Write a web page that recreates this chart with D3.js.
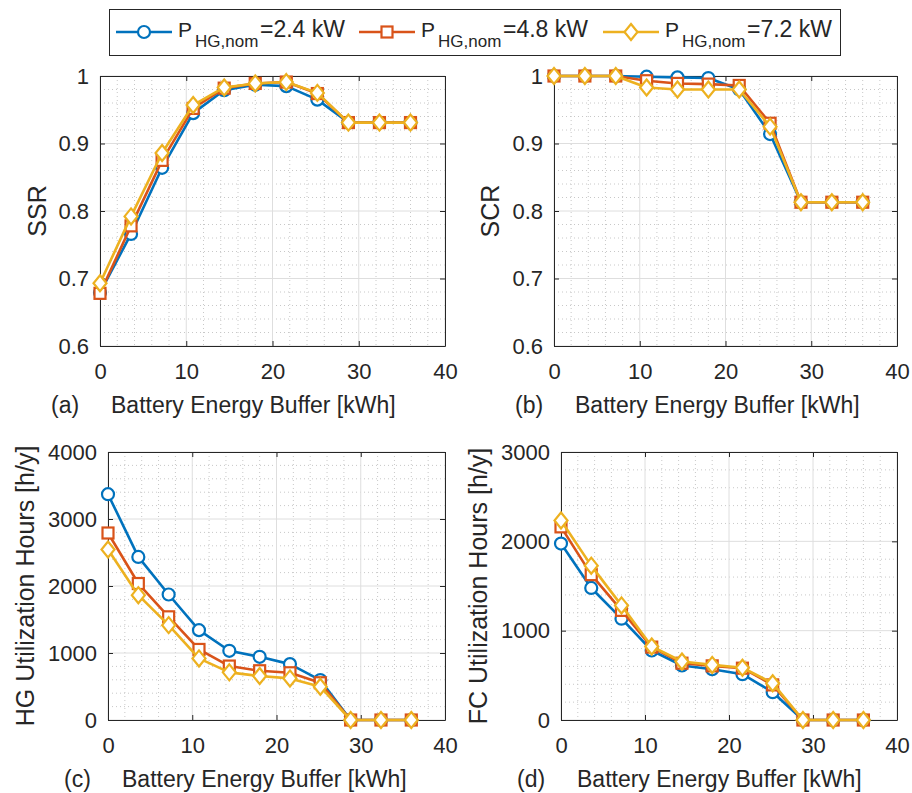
<!DOCTYPE html>
<html>
<head>
<meta charset="utf-8">
<script src="https://cdn.jsdelivr.net/npm/d3@7"></script>
<style>
body{margin:0;background:#fff;}
text{font-family:"Liberation Sans",Arial,Helvetica,sans-serif;fill:#262626;}
</style>
</head>
<body>
<div id="chart"></div>
<script>
// battery energy buffer [kWh]
var buffer = [0, 3.6, 7.2, 10.8, 14.4, 18, 21.6, 25.2, 28.8, 32.4, 36];
var powerLabels = ["2.4 kW", "4.8 kW", "7.2 kW"];
var colors = ["#0072BD", "#D95319", "#EDB120"];
var markers = ["circle", "square", "diamond"];

var ssr24 = [0.679, 0.766, 0.864, 0.945, 0.979, 0.987, 0.985, 0.965, 0.931, 0.931, 0.931];
var ssr48 = [0.678, 0.778, 0.875, 0.952, 0.982, 0.989, 0.991, 0.974, 0.931, 0.931, 0.931];
var ssr72 = [0.693, 0.792, 0.886, 0.957, 0.983, 0.989, 0.991, 0.975, 0.931, 0.931, 0.931];

var scr24 = [1.0, 1.0, 1.0, 0.999, 0.998, 0.997, 0.980, 0.914, 0.813, 0.813, 0.813];
var scr48 = [1.0, 1.0, 1.0, 0.993, 0.989, 0.988, 0.986, 0.930, 0.813, 0.813, 0.813];
var scr72 = [1.0, 1.0, 1.0, 0.983, 0.980, 0.980, 0.980, 0.925, 0.813, 0.813, 0.813];

var hg24 = [3370, 2434, 1873, 1341, 1033, 943, 834, 596, 0, 0, 0];
var hg48 = [2791, 2037, 1540, 1053, 805, 735, 705, 556, 0, 0, 0];
var hg72 = [2544, 1863, 1416, 919, 711, 656, 621, 497, 0, 0, 0];

var fc24 = [1975, 1478, 1134, 778, 610, 569, 513, 311, 0, 0, 0];
var fc48 = [2162, 1627, 1227, 816, 636, 606, 580, 393, 0, 0, 0];
var fc72 = [2233, 1728, 1283, 823, 655, 617, 585, 412, 0, 0, 0];

var xTicks = [0, 10, 20, 30, 40];
var ssrTicks = [0.6, 0.7, 0.8, 0.9, 1];
var hgTicks = [0, 1000, 2000, 3000, 4000];
var fcTicks = [0, 1000, 2000, 3000];

var width = 912;
var height = 793;

var panels = [
	{tag:"(a)", ylabel:"SSR", series:[ssr24, ssr48, ssr72], ydom:[0.6, 1], yticks:ssrTicks, minor:0.02,
	 left:100, right:445, top:76, bottom:346, tagX:51, labX:111, ylabX:46},
	{tag:"(b)", ylabel:"SCR", series:[scr24, scr48, scr72], ydom:[0.6, 1], yticks:ssrTicks, minor:0.02,
	 left:554, right:897, top:76, bottom:346, tagX:515, labX:575, ylabX:499},
	{tag:"(c)", ylabel:"HG Utilization Hours [h/y]", series:[hg24, hg48, hg72], ydom:[0, 4000], yticks:hgTicks, minor:200,
	 left:108, right:445, top:452, bottom:720, tagX:64, labX:122, ylabX:34},
	{tag:"(d)", ylabel:"FC Utilization Hours [h/y]", series:[fc24, fc48, fc72], ydom:[0, 3000], yticks:fcTicks, minor:200,
	 left:561, right:897, top:452, bottom:720, tagX:517, labX:577, ylabX:487}
];

var svg = d3.select("#chart").append("svg")
	.attr("width", width)
	.attr("height", height);

function drawMarker(g, type, x, y, color)
{
	if(type=="circle")
	{
		g.append("circle")
			.attr("cx", x).attr("cy", y).attr("r", 6)
			.attr("fill", "white").attr("stroke", color).attr("stroke-width", 2.2);
	}
	else if(type=="square")
	{
		g.append("rect")
			.attr("x", x-5.5).attr("y", y-5.5).attr("width", 11).attr("height", 11)
			.attr("fill", "white").attr("stroke", color).attr("stroke-width", 2.2);
	}
	else
	{
		g.append("path")
			.attr("d", "M"+x+","+(y-8)+"L"+(x+6.5)+","+y+"L"+x+","+(y+8)+"L"+(x-6.5)+","+y+"Z")
			.attr("fill", "white").attr("stroke", color).attr("stroke-width", 2.2);
	}
}

function drawPanel(p)
{
	var x = d3.scaleLinear().domain([0, 40]).range([p.left, p.right]);
	var y = d3.scaleLinear().domain(p.ydom).range([p.bottom, p.top]);
	var g = svg.append("g");

	// minor grid
	var minorX = d3.range(0, 40.001, 2).filter(function(v){ return v%10!=0; });
	var nMinorY = Math.round((p.ydom[1]-p.ydom[0])/p.minor);
	var minorY = d3.range(0, nMinorY+1).map(function(i){ return p.ydom[0]+i*p.minor; })
		.filter(function(v,i){ return i%5!=0; });
	g.selectAll(".mx").data(minorX).enter().append("line")
		.attr("x1", function(d){ return x(d); }).attr("x2", function(d){ return x(d); })
		.attr("y1", p.top).attr("y2", p.bottom)
		.attr("stroke", "#c8c8c8").attr("stroke-width", 1).attr("stroke-dasharray", "1,3");
	g.selectAll(".my").data(minorY).enter().append("line")
		.attr("y1", function(d){ return y(d); }).attr("y2", function(d){ return y(d); })
		.attr("x1", p.left).attr("x2", p.right)
		.attr("stroke", "#c8c8c8").attr("stroke-width", 1).attr("stroke-dasharray", "1,3");

	// major grid
	g.selectAll(".gx").data(xTicks).enter().append("line")
		.attr("x1", function(d){ return x(d); }).attr("x2", function(d){ return x(d); })
		.attr("y1", p.top).attr("y2", p.bottom)
		.attr("stroke", "#dedede").attr("stroke-width", 1);
	g.selectAll(".gy").data(p.yticks).enter().append("line")
		.attr("y1", function(d){ return y(d); }).attr("y2", function(d){ return y(d); })
		.attr("x1", p.left).attr("x2", p.right)
		.attr("stroke", "#dedede").attr("stroke-width", 1);

	// axes with inward ticks on all four sides
	var fmtY = function(d){ return d3.format("")(+d.toFixed(2)); };
	var axB = g.append("g").attr("transform", "translate(0,"+p.bottom+")")
		.call(d3.axisBottom(x).tickValues(xTicks).tickSizeInner(-5).tickSizeOuter(0).tickPadding(17));
	var axT = g.append("g").attr("transform", "translate(0,"+p.top+")")
		.call(d3.axisTop(x).tickValues(xTicks).tickSizeInner(-5).tickSizeOuter(0).tickFormat(""));
	var axL = g.append("g").attr("transform", "translate("+p.left+",0)")
		.call(d3.axisLeft(y).tickValues(p.yticks).tickSizeInner(-5).tickSizeOuter(0).tickPadding(11).tickFormat(fmtY));
	var axR = g.append("g").attr("transform", "translate("+p.right+",0)")
		.call(d3.axisRight(y).tickValues(p.yticks).tickSizeInner(-5).tickSizeOuter(0).tickFormat(""));
	[axB, axT, axL, axR].forEach(function(a){
		a.select(".domain").attr("stroke", "#262626");
		a.selectAll(".tick line").attr("stroke", "#262626");
		a.selectAll("text").attr("font-size", "22px")
			.attr("font-family", "'Liberation Sans',Arial,sans-serif").attr("fill", "#262626");
	});

	// series
	var line = d3.line()
		.x(function(d,i){ return x(buffer[i]); })
		.y(function(d){ return y(d); });
	p.series.forEach(function(s, k){
		var sg = g.append("g");
		sg.append("path").datum(s)
			.attr("d", line)
			.attr("fill", "none").attr("stroke", colors[k]).attr("stroke-width", 2.6)
			.attr("stroke-linejoin", "round");
		s.forEach(function(v, i){
			drawMarker(sg, markers[k], x(buffer[i]), y(v), colors[k]);
		});
	});

	// labels
	var labY = p.bottom + 67;
	g.append("text").attr("x", p.tagX).attr("y", labY).attr("font-size", "23px").text(p.tag);
	g.append("text").attr("x", p.labX).attr("y", labY).attr("font-size", "23px").text("Battery Energy Buffer [kWh]");
	g.append("text")
		.attr("transform", "translate("+p.ylabX+","+((p.top+p.bottom)/2)+") rotate(-90)")
		.attr("text-anchor", "middle").attr("font-size", "25px").text(p.ylabel);
}

panels.forEach(drawPanel);

// legend
var leg = svg.append("g");
leg.append("rect")
	.attr("x", 109.5).attr("y", 9.5).attr("width", 731).attr("height", 46)
	.attr("fill", "white").attr("stroke", "#262626").attr("stroke-width", 1);
var legX = [116, 359, 603];
powerLabels.forEach(function(lab, k){
	var lx = legX[k];
	leg.append("line")
		.attr("x1", lx).attr("x2", lx+56).attr("y1", 32).attr("y2", 32)
		.attr("stroke", colors[k]).attr("stroke-width", 2.6);
	drawMarker(leg, markers[k], lx+28, 32, colors[k]);
	leg.append("text").attr("x", lx+62).attr("y", 37).attr("font-size", "21px").text("P");
	leg.append("text").attr("x", lx+79).attr("y", 47).attr("font-size", "17px").text("HG,nom");
	leg.append("text").attr("x", lx+144).attr("y", 37).attr("font-size", "23px").text("="+lab);
});
</script>
</body>
</html>
